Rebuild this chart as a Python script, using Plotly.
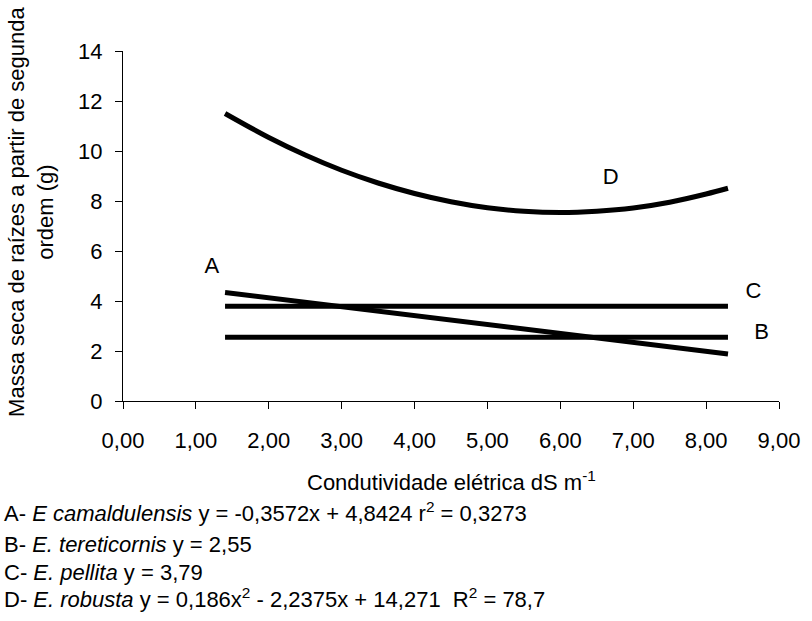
import plotly.graph_objects as go

# ---- data ----
x_A = [1.4, 8.3]
y_A = [4.34, 1.88]

x_B = [1.4, 8.3]
y_B = [2.55, 2.55]

x_C = [1.4, 8.3]
y_C = [3.79, 3.79]

x_D = [1.4, 2.0, 2.5, 3.0, 3.5, 4.0, 4.5, 5.0, 5.5, 6.0, 6.5, 7.0, 7.5, 8.0, 8.3]
y_D = [11.50, 10.54, 9.84, 9.23, 8.72, 8.30, 7.97, 7.73, 7.59, 7.54, 7.59, 7.72, 7.95, 8.28, 8.51]

x_ticks = [0, 1, 2, 3, 4, 5, 6, 7, 8, 9]
x_ticklabels = ["0,00", "1,00", "2,00", "3,00", "4,00", "5,00", "6,00", "7,00", "8,00", "9,00"]
y_ticks = [0, 2, 4, 6, 8, 10, 12, 14]

curve_labels = ["A", "B", "C", "D"]
label_x = [1.22, 8.76, 8.65, 6.69]
label_y = [5.36, 2.70, 4.35, 8.9]

legend_lines = [
    "A- <i>E camaldulensis</i> y = -0,3572x + 4,8424 r<sup>2</sup> = 0,3273",
    "B- <i>E. tereticornis</i> y = 2,55",
    "C- <i>E. pellita</i> y = 3,79",
    "D- <i>E. robusta</i> y = 0,186x<sup>2</sup> - 2,2375x + 14,271  R<sup>2</sup> = 78,7",
]

FONT = "Liberation Sans, Arial, sans-serif"
FS = 22
W, H = 812, 621
L, R, T, B = 123.3, 26, 50.7, 220.3
PW, PH = W - L - R, H - T - B


def px(xp):
    return (xp - L) / PW


def py(yp):
    return (H - B - yp) / PH


fig = go.Figure()
line_style = dict(color="black", width=5)
for xs, ys, shape in [(x_A, y_A, "linear"), (x_B, y_B, "linear"), (x_C, y_C, "linear"), (x_D, y_D, "spline")]:
    fig.add_trace(go.Scatter(x=xs, y=ys, mode="lines", line=dict(shape=shape, **line_style),
                             showlegend=False, hoverinfo="skip"))

fig.add_trace(go.Scatter(x=label_x, y=label_y, mode="text", text=curve_labels,
                         textfont=dict(family=FONT, size=FS, color="black"),
                         showlegend=False, hoverinfo="skip", cliponaxis=False))

annotations = []
# y-axis title (two lines)
annotations.append(dict(
    text="Massa seca de raízes a partir de segunda<br>ordem (g)",
    xref="paper", yref="paper", x=px(31), y=py(212), textangle=-90,
    showarrow=False, font=dict(family=FONT, size=FS, color="black"),
    xanchor="center", yanchor="middle", align="center"))
# x-axis title
annotations.append(dict(
    text="Condutividade elétrica dS m<sup>-1</sup>",
    xref="paper", yref="paper", x=px(455), y=py(481),
    showarrow=False, font=dict(family=FONT, size=FS, color="black"),
    xanchor="center", yanchor="middle"))
# equation lines
line_ys = [512, 544, 572, 598]
for txt, yy in zip(legend_lines, line_ys):
    annotations.append(dict(
        text=txt, xref="paper", yref="paper", x=px(1), y=py(yy),
        showarrow=False, font=dict(family=FONT, size=FS, color="black"),
        xanchor="left", yanchor="middle", align="left"))

fig.update_layout(
    width=W, height=H,
    margin=dict(l=L, r=R, t=T, b=B, pad=0),
    paper_bgcolor="white", plot_bgcolor="white",
    font=dict(family=FONT, size=FS, color="black"),
    annotations=annotations,
    xaxis=dict(range=[0, 9], tickvals=x_ticks, ticktext=x_ticklabels,
               showgrid=False, zeroline=False, showline=True, linecolor="black", linewidth=1,
               ticks="outside", ticklen=7, tickwidth=1, tickcolor="black",
               tickfont=dict(family=FONT, size=FS, color="black"),
               ticklabelstandoff=13, fixedrange=True),
    yaxis=dict(range=[0, 14], tickvals=y_ticks,
               showgrid=False, zeroline=False, showline=True, linecolor="black", linewidth=1,
               ticks="outside", ticklen=7, tickwidth=1, tickcolor="black",
               tickfont=dict(family=FONT, size=FS, color="black"),
               ticklabelstandoff=8, fixedrange=True),
)

fig.write_html("out.html")
